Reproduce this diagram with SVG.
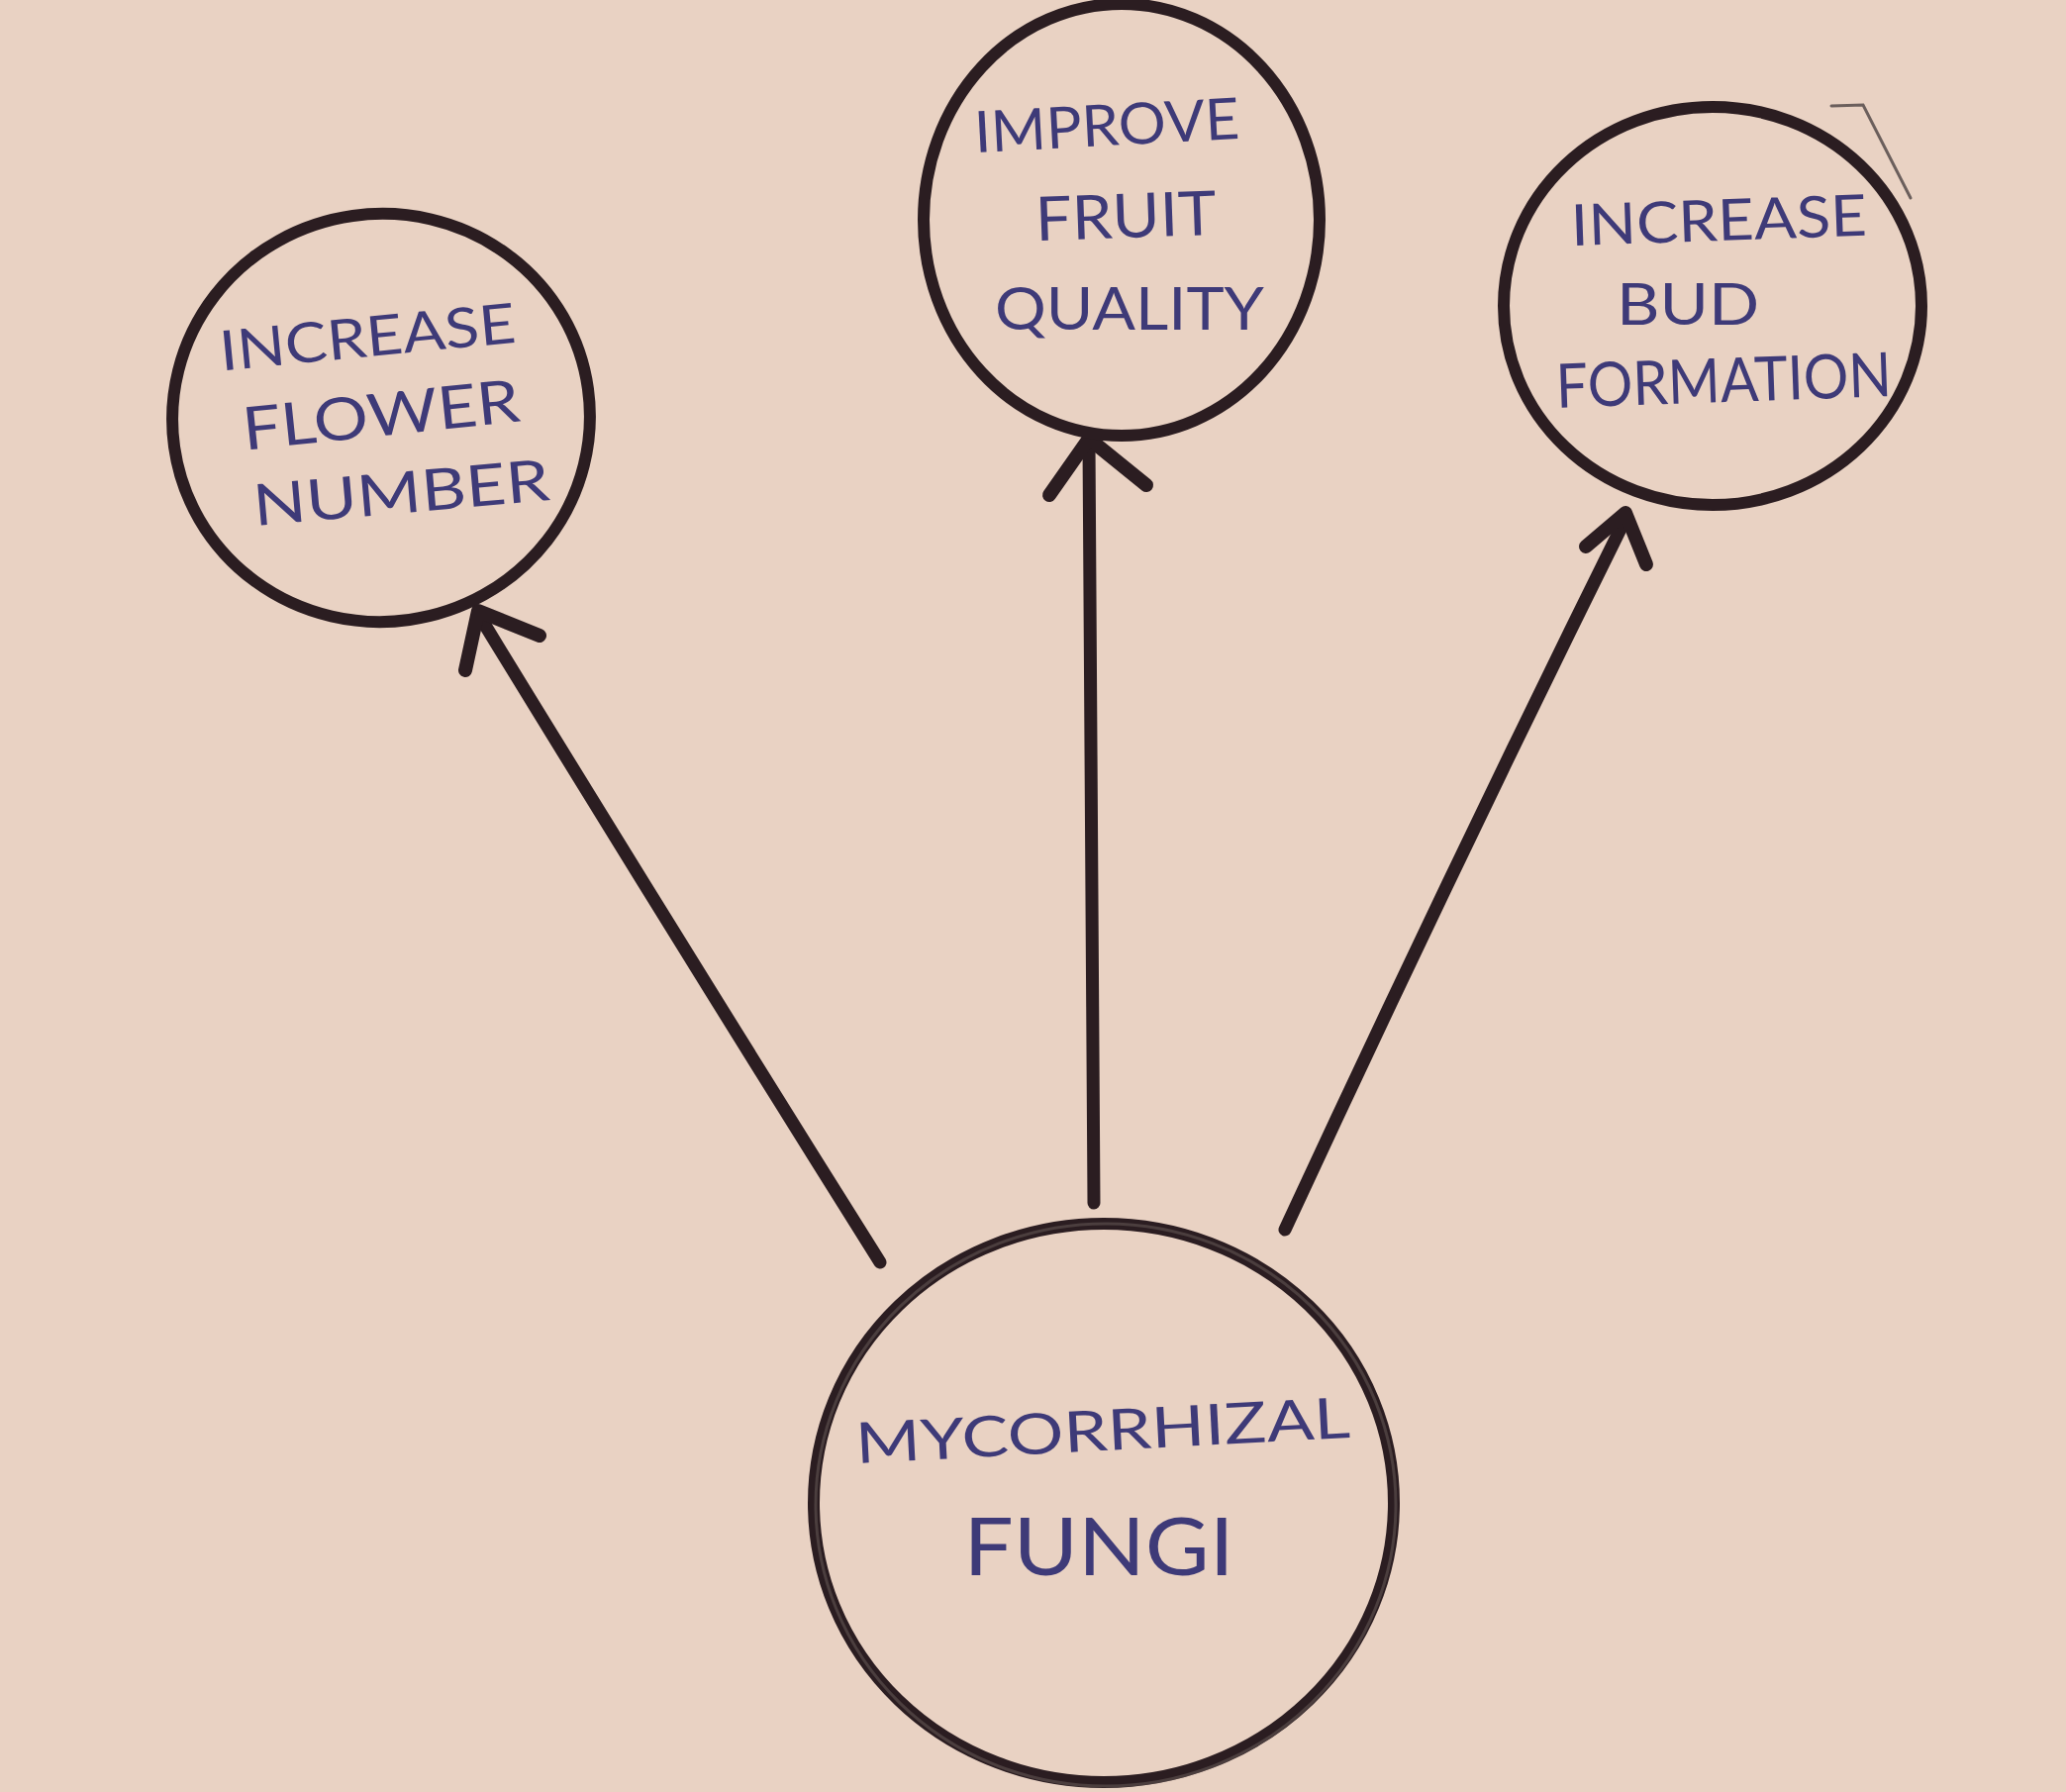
<svg xmlns="http://www.w3.org/2000/svg" width="2087" height="1810" viewBox="0 0 2087 1810">
<style>
.ring{fill:none;stroke:#2b1d21;stroke-width:12;stroke-linecap:round;stroke-linejoin:round}
.faint{fill:none;stroke:#6b5f5c;stroke-width:3;stroke-linecap:round}
.shaft{fill:none;stroke:#2b1d21;stroke-width:13;stroke-linecap:round}
.head{fill:none;stroke:#2b1d21;stroke-width:14;stroke-linecap:round;stroke-linejoin:round}
.lbl{font-family:"Lato","Open Sans","Liberation Sans",sans-serif;font-weight:400;fill:#3e3a78;text-anchor:middle}
</style>
<rect width="2087" height="1810" fill="#e9d2c3"/>
<g id="connectors">
<path class="shaft" d="M889,1275 Q688,955 483,620"/>
<path class="head" d="M470,677 L483,617 L545,642"/>
<path class="shaft" d="M1105,1215 Q1101,830 1100,447"/>
<path class="head" d="M1060,500 L1100,443 L1158,490"/>
<path class="shaft" d="M1298,1242 Q1468,875 1643,522"/>
<path class="head" d="M1602,552 L1642,518 L1663,570"/>
</g>
<g id="node-flower">
<ellipse class="ring" cx="385" cy="422" rx="211" ry="206" transform="rotate(-8 385 422)"/>
<text class="lbl" font-size="56" x="373" y="360" textLength="300" lengthAdjust="spacingAndGlyphs" transform="rotate(-5.5 373 360)">INCREASE</text>
<text class="lbl" font-size="60" x="387" y="440" textLength="281" lengthAdjust="spacingAndGlyphs" transform="rotate(-6 387 440)">FLOWER</text>
<text class="lbl" font-size="58" x="407" y="518" textLength="300" lengthAdjust="spacingAndGlyphs" transform="rotate(-5 407 518)">NUMBER</text>
</g>
<g id="node-fruit">
<ellipse class="ring" cx="1133" cy="222" rx="200" ry="218"/>
<text class="lbl" font-size="58" x="1119" y="147" textLength="268" lengthAdjust="spacingAndGlyphs" transform="rotate(-3 1119 147)">IMPROVE</text>
<text class="lbl" font-size="62" x="1138" y="240" textLength="183" lengthAdjust="spacingAndGlyphs" transform="rotate(-2 1138 240)">FRUIT</text>
<text class="lbl" font-size="60" x="1141" y="333" textLength="272" lengthAdjust="spacingAndGlyphs">QUALITY</text>
</g>
<g id="node-bud">
<ellipse class="ring" cx="1730" cy="309" rx="211" ry="201"/>
<path class="faint" d="M1850,107 L1882,106 L1930,200"/>
<text class="lbl" font-size="58" x="1737" y="243" textLength="299" lengthAdjust="spacingAndGlyphs" transform="rotate(-2 1737 243)">INCREASE</text>
<text class="lbl" font-size="58" x="1705" y="328" textLength="144" lengthAdjust="spacingAndGlyphs">BUD</text>
<text class="lbl" font-size="62" x="1742" y="406" textLength="339" lengthAdjust="spacingAndGlyphs" transform="rotate(-2 1742 406)">FORMATION</text>
</g>
<g id="node-fungi">
<ellipse class="ring" cx="1115" cy="1518" rx="293" ry="282"/>
<ellipse class="faint" cx="1117" cy="1520" rx="293" ry="284" opacity="0.5"/>
<text class="lbl" font-size="57" x="1115" y="1465" textLength="500" lengthAdjust="spacingAndGlyphs" transform="rotate(-3 1115 1465)">MYCORRHIZAL</text>
<text class="lbl" font-size="82" x="1110" y="1591" textLength="273" lengthAdjust="spacingAndGlyphs">FUNGI</text>
</g>
</svg>
